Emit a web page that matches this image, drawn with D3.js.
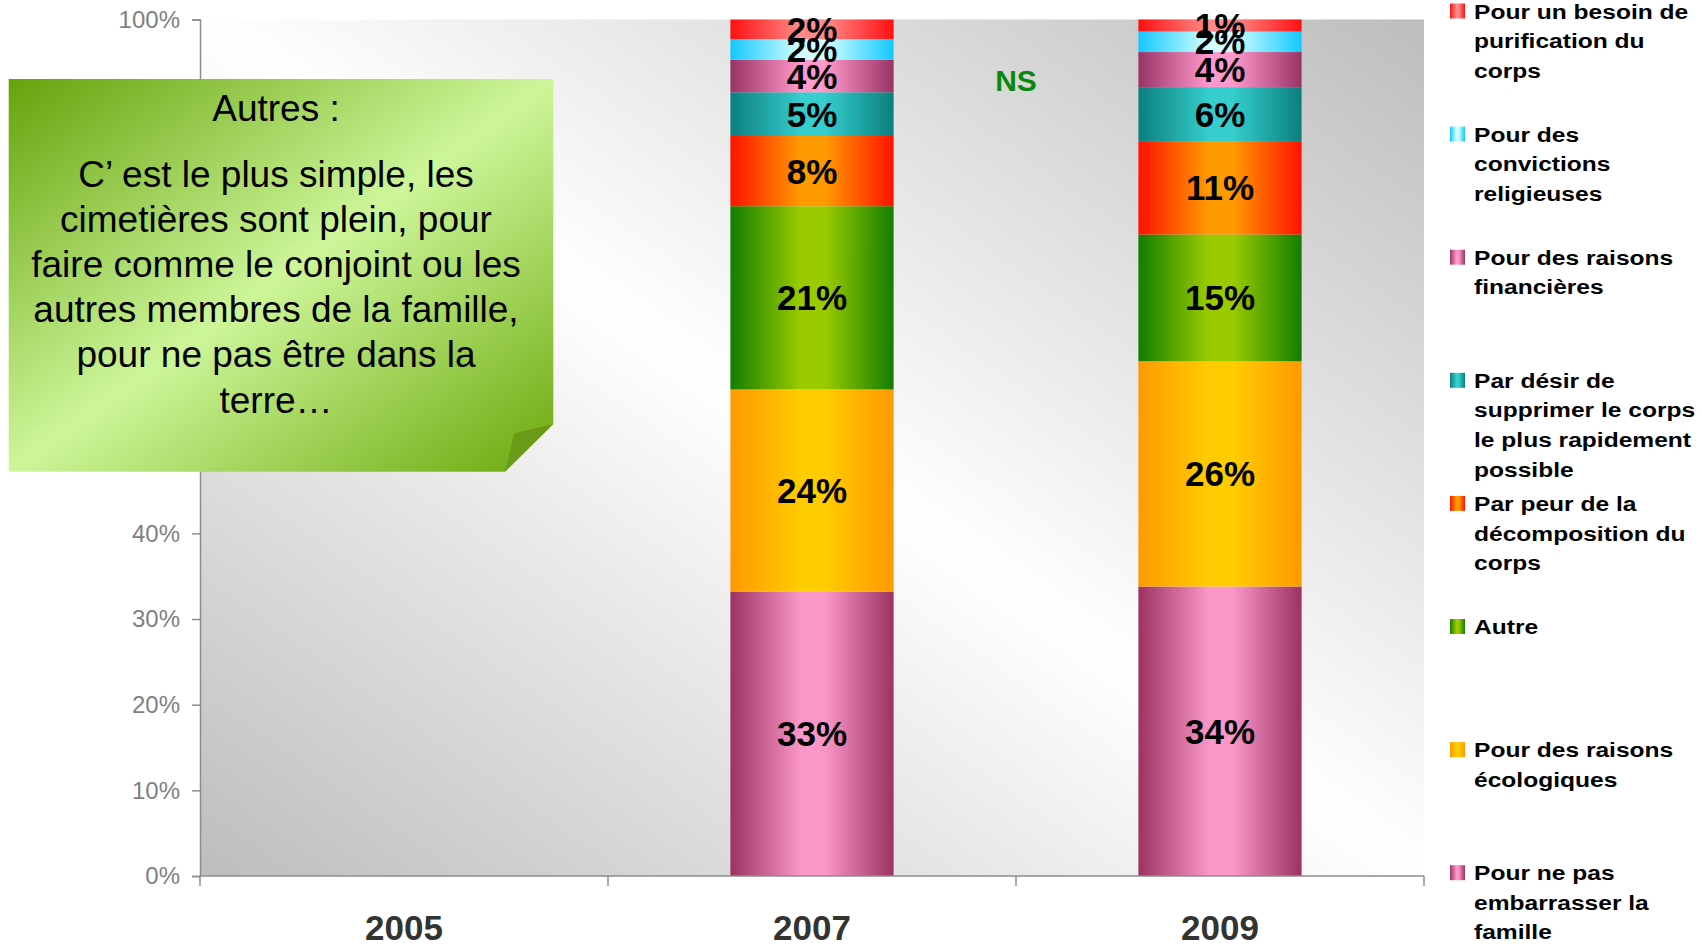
<!DOCTYPE html>
<html>
<head>
<meta charset="utf-8">
<script src="https://cdn.jsdelivr.net/npm/d3@7"></script>
<style>
  html, body { margin: 0; padding: 0; background: #ffffff; }
  svg { display: block; font-family: "Liberation Sans", Arial, sans-serif; }
</style>
</head>
<body>
<svg id="chart" width="1702" height="947"></svg>
<script>
// ---------- DATA ----------
const categories = ["2005", "2007", "2009"];
// series, bottom to top of the stack
const seriesNames = [
  "Pour ne pas\nembarrasser la\nfamille",
  "Pour des raisons\nécologiques",
  "Autre",
  "Par peur de la\ndécomposition du\ncorps",
  "Par désir de\nsupprimer le corps\nle plus rapidement\npossible",
  "Pour des raisons\nfinancières",
  "Pour des\nconvictions\nreligieuses",
  "Pour un besoin de\npurification du\ncorps"
];
// percentages (labels show them rounded)
const values2005 = [];                       // no data for 2005
const values2007 = [33.2, 23.6, 21.4, 8.2, 5.1, 3.8, 2.4, 2.3];
const values2009 = [33.8, 26.3, 14.8, 10.9, 6.3, 4.1, 2.4, 1.4];
const yTicks = [0, 10, 20, 30, 40, 50, 60, 70, 80, 90, 100];
const yTicksHiddenByNote = [50, 60, 70, 80, 90];
const nsLabel = "NS";
const noteTitle = "Autres :";
const noteLines = [
  "C\u2019 est le plus simple, les",
  "cimetières sont plein, pour",
  "faire comme le conjoint ou les",
  "autres membres de la famille,",
  "pour ne pas être dans la",
  "terre\u2026"
];
// gradient colours per series: [edge, centre]
const seriesEdge   = ["#9b3262", "#ff9900", "#137d00", "#ff1200", "#0c7e7e", "#993366", "#14c8ff", "#ff1010"];
const seriesCenter = ["#fa96c8", "#ffcc00", "#9acb00", "#ff9a00", "#35cdcd", "#ff99cc", "#d2ffff", "#ff8a8a"];

// ---------- LAYOUT ----------
const svg = d3.select("#chart");
const plot = { left: 200, right: 1424, top: 19.5, bottom: 876 };

const x = d3.scaleBand()
  .domain(categories)
  .range([plot.left, plot.right])
  .paddingInner(0.6)
  .paddingOuter(0.3);

const y = d3.scaleLinear().domain([0, 100]).range([plot.bottom, plot.top]);

const defs = svg.append("defs");

// plot background gradient
const bg = defs.append("linearGradient").attr("id", "bgGrad")
  .attr("x1", 0).attr("y1", 1).attr("x2", 1).attr("y2", 0);
bg.append("stop").attr("offset", 0).attr("stop-color", "#bdbdbd");
bg.append("stop").attr("offset", 0.5).attr("stop-color", "#ffffff");
bg.append("stop").attr("offset", 1).attr("stop-color", "#bdbdbd");

// series gradients
seriesNames.forEach((s, i) => {
  const g = defs.append("linearGradient").attr("id", "sg" + i)
    .attr("x1", 0).attr("y1", 0).attr("x2", 1).attr("y2", 0);
  g.append("stop").attr("offset", 0).attr("stop-color", seriesEdge[i]);
  g.append("stop").attr("offset", 0.43).attr("stop-color", seriesCenter[i]);
  g.append("stop").attr("offset", 0.58).attr("stop-color", seriesCenter[i]);
  g.append("stop").attr("offset", 1).attr("stop-color", seriesEdge[i]);
});

// note gradient
const ng = defs.append("linearGradient").attr("id", "noteGrad")
  .attr("x1", 0).attr("y1", 0).attr("x2", 1).attr("y2", 1);
ng.append("stop").attr("offset", 0).attr("stop-color", "#67a20c");
ng.append("stop").attr("offset", 0.5).attr("stop-color", "#cdf69a");
ng.append("stop").attr("offset", 1).attr("stop-color", "#6ca80c");

// background
svg.append("rect")
  .attr("x", plot.left).attr("y", plot.top)
  .attr("width", plot.right - plot.left).attr("height", plot.bottom - plot.top)
  .attr("fill", "url(#bgGrad)");

// ---------- STACK ----------
const valueMap = { "2005": values2005, "2007": values2007, "2009": values2009 };
const rows = categories.filter(c => valueMap[c].length).map(c => {
  const r = { cat: c };
  seriesNames.forEach((s, i) => r[i] = valueMap[c][i]);
  return r;
});
const stack = d3.stack().keys(seriesNames.map((s, i) => i));
const layers = stack(rows);

const layerG = svg.append("g").selectAll("g").data(layers).join("g")
  .attr("fill", d => "url(#sg" + d.key + ")");

layerG.selectAll("rect").data(d => d).join("rect")
  .attr("x", d => x(d.data.cat))
  .attr("width", x.bandwidth())
  .attr("y", d => y(d[1]))
  .attr("height", d => y(d[0]) - y(d[1]));

// ---------- AXES ----------
const axisColor = "#8c8c8c";
const yAxis = svg.append("g")
  .attr("transform", `translate(${plot.left},0)`)
  .call(d3.axisLeft(y).tickValues(yTicks)
    .tickFormat(d => yTicksHiddenByNote.includes(d) ? "" : d + "%")
    .tickSize(8).tickPadding(12));
yAxis.select(".domain").attr("stroke", axisColor).attr("stroke-width", 1.5);
yAxis.selectAll(".tick line").attr("stroke", axisColor).attr("stroke-width", 1.5);
yAxis.selectAll(".tick text")
  .attr("fill", "#7f7f7f")
  .style("font-size", "24px");

const xAxis = svg.append("g")
  .attr("transform", `translate(0,${plot.bottom})`)
  .call(d3.axisBottom(x).tickSize(0).tickPadding(0));
xAxis.select(".domain").remove();
xAxis.selectAll(".tick text")
  .attr("y", 52).attr("dy", "0.35em")
  .attr("fill", "#333333")
  .style("font-size", "35px").style("font-weight", "bold");
xAxis.append("line")
  .attr("x1", plot.left).attr("x2", plot.right)
  .attr("stroke", axisColor).attr("stroke-width", 1.5);
const boundaries = d3.range(categories.length + 1).map(i => plot.left + i * x.step());
xAxis.selectAll(".bound").data(boundaries).join("line")
  .attr("class", "bound")
  .attr("x1", d => d).attr("x2", d => d)
  .attr("y1", 0).attr("y2", 10)
  .attr("stroke", axisColor).attr("stroke-width", 1.5);

// ---------- DATA LABELS ----------
const labelG = svg.append("g");
layers.forEach(layer => {
  layer.forEach(d => {
    const v = valueMap[d.data.cat][layer.key];
    labelG.append("text")
      .attr("x", x(d.data.cat) + x.bandwidth() / 2)
      .attr("y", y((d[0] + d[1]) / 2))
      .attr("dy", "0.36em")
      .attr("text-anchor", "middle")
      .style("font-size", "35px").style("font-weight", "bold")
      .attr("fill", "#000")
      .text(Math.round(v) + "%");
  });
});

// NS label between 2007 and 2009
svg.append("text")
  .attr("x", (x("2007") + x.bandwidth() + x("2009")) / 2)
  .attr("y", y(92.9))
  .attr("dy", "0.36em")
  .attr("text-anchor", "middle")
  .style("font-size", "30px").style("font-weight", "bold")
  .attr("fill", "#0b870b")
  .text(nsLabel);

// ---------- LEGEND ----------
const legY = d3.scaleLinear().domain([0, 1]).range([11, 134.1]);
const legendOrder = seriesNames.map((s, i) => i).reverse();
const leg = svg.append("g");
legendOrder.forEach((si, k) => {
  const cy = legY(k);
  leg.append("rect")
    .attr("x", 1450).attr("y", cy - 7.5)
    .attr("width", 15).attr("height", 15)
    .attr("fill", "url(#sg" + si + ")");
  const lines = seriesNames[si].split("\n");
  const tg = leg.append("g").attr("transform", `translate(1474,${cy}) scale(1.17,1)`);
  lines.forEach((ln, j) => {
    tg.append("text")
      .attr("x", 0).attr("y", j * 29.6)
      .attr("dy", "0.36em")
      .style("font-size", "21px").style("font-weight", "bold")
      .attr("fill", "#000")
      .text(ln);
  });
});

// ---------- NOTE ----------
const note = svg.append("g");
const nL = 8.7, nT = 79, nR = 553.3, nB = 471.7;
note.append("path")
  .attr("d", `M${nL},${nT} L${nR},${nT} L${nR},424 L505,${nB} L${nL},${nB} Z`)
  .attr("fill", "url(#noteGrad)");
note.append("path")
  .attr("d", `M505,${nB} L${nR},424 L514.3,433.3 Z`)
  .attr("fill", "#6a9a18");
const cx = 276;
note.append("text")
  .attr("x", cx).attr("y", 108.5).attr("dy", "0.35em")
  .attr("text-anchor", "middle")
  .style("font-size", "37px").attr("fill", "#000")
  .text(noteTitle);
noteLines.forEach((ln, i) => {
  note.append("text")
    .attr("x", cx).attr("y", 173.7 + i * 45.2).attr("dy", "0.35em")
    .attr("text-anchor", "middle")
    .style("font-size", "37px").attr("fill", "#000")
    .text(ln);
});
</script>
</body>
</html>
